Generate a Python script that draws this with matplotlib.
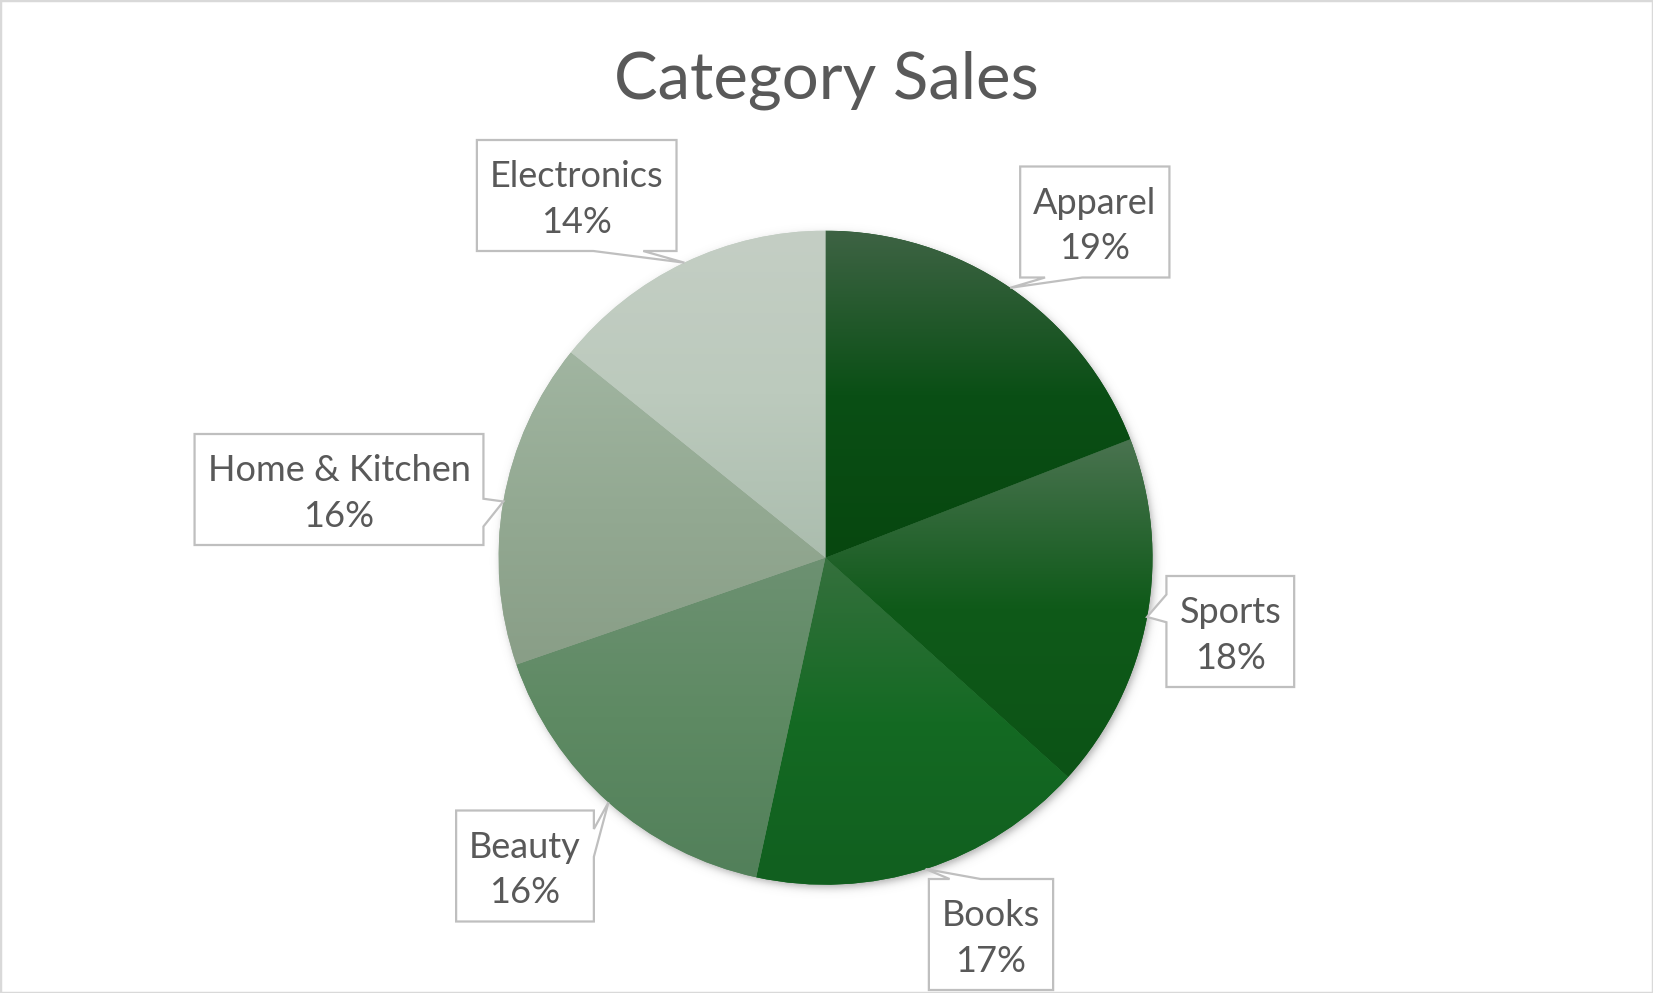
import numpy as np
import matplotlib
matplotlib.use('Agg')
import matplotlib.pyplot as plt
from matplotlib.patches import Polygon, Rectangle
from matplotlib.colors import to_rgb

W, H = 1653, 993

categories = ['Apparel', 'Sports', 'Books', 'Beauty', 'Home & Kitchen', 'Electronics']
sales = [19.1, 17.6, 16.7, 16.3, 16.1, 14.2]

# gradient stops per slice: top, middle, bottom
top_colors = ['#3e6344', '#4a7350', '#35703d', '#6d9172', '#a1b5a1', '#c4cec4']
mid_colors = ['#0a4f15', '#0f5a19', '#146a23', '#5e8a63', '#93a992', '#bccabd']
bot_colors = ['#07470f', '#0c5316', '#115f1f', '#52805a', '#899e87', '#abbdae']

# layout (pixels from top-left)
pie_cx, pie_cy, pie_r = 825.5, 557.7, 327
label_pos = [(1094.8, 222), (1230.3, 631.5), (991, 934.5),
             (525, 866), (339, 489.5), (576.7, 195.5)]
box_h = 111
text_col = '#595959'
font = 'Lato'

fig = plt.figure(figsize=(W / 100, H / 100), dpi=100)
ax = fig.add_axes([0, 0, 1, 1])

cy_up = H - pie_cy

# soft shadow under the pie
gx = np.linspace(pie_cx - pie_r - 40, pie_cx + pie_r + 40, 500)
gy = np.linspace(cy_up - pie_r - 40, cy_up + pie_r + 40, 500)
XX, YY = np.meshgrid(gx, gy)
d = np.hypot(XX - (pie_cx + 2), YY - (cy_up - 3))
alpha = 0.5 * 0.5 * (1 - np.tanh((d - pie_r) / 5.0))
shadow = np.zeros(XX.shape + (4,))
shadow[..., :3] = 0.35
shadow[..., 3] = alpha
ax.imshow(shadow, extent=[gx[0], gx[-1], gy[0], gy[-1]], origin='lower',
          zorder=1, interpolation='bilinear')

wedges, _ = ax.pie(sales, startangle=90, counterclock=False, radius=pie_r,
                   center=(pie_cx, cy_up), colors=mid_colors, frame=True,
                   wedgeprops=dict(linewidth=0, zorder=2))

total = sum(sales)
cum = 0
tips = []
for i, w in enumerate(wedges):
    w.set_zorder(2)
    a1 = 90 - 360 * cum / total
    a2 = 90 - 360 * (cum + sales[i]) / total
    am = np.radians((a1 + a2) / 2)
    tips.append((pie_cx + pie_r * np.cos(am), pie_cy - pie_r * np.sin(am)))
    cum += sales[i]
    # vertical extent of the wedge
    th = np.radians(np.linspace(a2, a1, 200))
    ys = np.concatenate([[cy_up], cy_up + pie_r * np.sin(th)])
    ytop, ybot = ys.max(), ys.min()
    n = 256
    t = np.linspace(0, 1, n)  # 0 at top
    c0, c1, c2 = (np.array(to_rgb(c)) for c in (top_colors[i], mid_colors[i], bot_colors[i]))
    rows = np.where(t[:, None] < 0.5,
                    c0 + (c1 - c0) * (t[:, None] / 0.5),
                    c1 + (c2 - c1) * ((t[:, None] - 0.5) / 0.5))
    img = np.repeat(rows[:, None, :], 2, axis=1)
    im = ax.imshow(img, extent=[pie_cx - pie_r, pie_cx + pie_r, ybot, ytop],
                   origin='upper', aspect='auto', zorder=3, interpolation='bilinear')
    im.set_clip_path(w)


def callout(x0, y0, w, h, tx, ty):
    hc, vc = x0 + w / 2, y0 + h / 2
    dx, dy = tx - hc, ty - vc
    dz = abs(dy) - abs(dx * h / w)
    xs = [x0 + w * k / 12 for k in ((7, 10) if dx > 0 else (2, 5))]
    yk = [y0 + h * k / 12 for k in ((7, 10) if dy > 0 else (2, 5))]
    x1, y1 = x0 + w, y0 + h
    tl, tr, br, bl = (x0, y0), (x1, y0), (x1, y1), (x0, y1)
    if dz > 0:
        if dy < 0:
            pts = [tl, (xs[0], y0), (tx, ty), (xs[1], y0), tr, br, bl]
        else:
            pts = [tl, tr, br, (xs[1], y1), (tx, ty), (xs[0], y1), bl]
    else:
        if dx < 0:
            pts = [tl, tr, br, bl, (x0, yk[1]), (tx, ty), (x0, yk[0])]
        else:
            pts = [tl, tr, (x1, yk[0]), (tx, ty), (x1, yk[1]), br, bl]
    return [(p[0], H - p[1]) for p in pts]


renderer = fig.canvas.get_renderer()
for i, cat in enumerate(categories):
    lx, ly = label_pos[i]
    pct = round(sales[i] / total * 100)
    txt = ax.text(lx, H - ly - 4, f'{cat}\n{pct}%', ha='center', va='center',
                  fontsize=26, color=text_col, family=font, linespacing=1.45,
                  zorder=6)
    bw = txt.get_window_extent(renderer).width + 26
    poly = Polygon(callout(lx - bw / 2, ly - box_h / 2, bw, box_h, *tips[i]),
                   closed=True, facecolor='white', edgecolor='#bfbfbf',
                   linewidth=1.6, zorder=5, joinstyle='miter')
    ax.add_patch(poly)

ax.text(826, H - 80, 'Category Sales', ha='center', va='center', fontsize=47,
        color=text_col, family=font)

ax.set_xlim(0, W)
ax.set_ylim(0, H)
ax.set_aspect('auto')
ax.axis('off')

fig.patches.append(Rectangle((0, 0), 1, 1, transform=fig.transFigure,
                             fill=False, edgecolor='#d9d9d9', linewidth=2.5))

fig.savefig('out.png', dpi=100, facecolor='white')
